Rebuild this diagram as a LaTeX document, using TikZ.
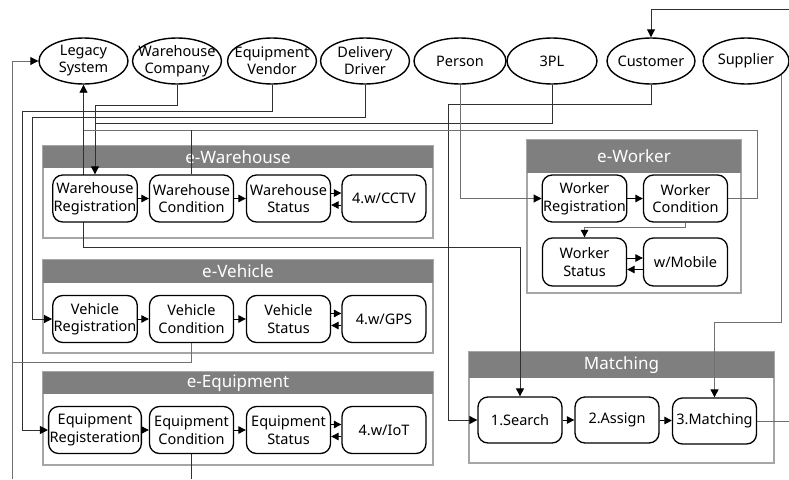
\documentclass[tikz,border=0pt]{standalone}
\usepackage{fontspec}
\setmainfont{Noto Sans}
\usetikzlibrary{arrows.meta,shapes.geometric}
\pgfdeclarelayer{groups}
\pgfdeclarelayer{wires}
\pgfsetlayers{groups,wires,main}
\definecolor{headgray}{HTML}{7F7F7F}
\definecolor{boxgray}{HTML}{A6A6A6}
\definecolor{wiredark}{HTML}{303030}
\definecolor{wiregray}{HTML}{707070}
\begin{document}
\begin{tikzpicture}[x=1pt,y=-1pt,
  actor/.style={ellipse,draw=black,line width=1.4pt,fill=white,
    minimum width=89pt,minimum height=46pt,inner sep=0pt},
  atext/.style={align=center,inner sep=0pt,font=\fontsize{14.5}{17}\selectfont},
  stepbox/.style={rectangle,rounded corners=10pt,draw=black,line width=1.3pt,
    fill=white,minimum width=84pt,minimum height=47pt,inner sep=1pt,
    align=center,font=\fontsize{14.5}{17.5}\selectfont},
  gbox/.style={rectangle,draw=boxgray,line width=1.2pt,inner sep=0pt},
  ghead/.style={rectangle,fill=headgray,text=white,inner sep=0pt,
    font=\fontsize{17}{20}\selectfont},
  wire/.style={draw=wiredark,line width=0.9pt},
  wirelt/.style={draw=wiregray,line width=0.9pt},
  arr/.style={-{Triangle[length=8pt,width=8pt,color=black]}},
  link/.style={draw=black,line width=0.9pt,-{Triangle[length=7.5pt,width=7.5pt,color=black]}}
]
\useasboundingbox (0,0) rectangle (789,479);

% ---------- actors ----------
\node[actor,label={[atext]center:Legacy\\System}]      (leg) at (83.5,61) {};
\node[actor,label={[atext]center:Warehouse\\Company}]  (whc) at (177,61) {};
\node[actor,label={[atext]center:Equipment\\Vendor}]   (eqv) at (272,61) {};
\node[actor,label={[atext]center:Delivery\\Driver}]    (drv) at (365,61) {};
\node[actor,minimum width=92pt,label={[atext]center:Person}] (per) at (460,61) {};
\node[actor,minimum width=90pt,label={[atext]center:3PL}]    (tpl) at (552,61) {};
\node[actor,minimum width=88pt,label={[atext]center:Customer}] (cus) at (651,61) {};
\node[actor,minimum width=86pt,label={[atext]center:Supplier}] (sup) at (746,61) {};

% ---------- group frames ----------
\begin{pgfonlayer}{groups}
  \node[gbox,minimum width=390pt,minimum height=92pt] (gwh) at (238,192) {};
  \node[ghead,minimum width=390pt,minimum height=22pt] (hwh) at (238,157) {e-Warehouse};
  \node[gbox,minimum width=390pt,minimum height=93pt] (gve) at (238,306.5) {};
  \node[ghead,minimum width=390pt,minimum height=23pt] (hve) at (238,271.5) {e-Vehicle};
  \node[gbox,minimum width=390pt,minimum height=93pt] (geq) at (238,418.5) {};
  \node[ghead,minimum width=390pt,minimum height=22pt] (heq) at (238,383) {e-Equipment};
  \node[gbox,minimum width=214pt,minimum height=153pt] (gwk) at (634,216.5) {};
  \node[ghead,minimum width=214pt,minimum height=33pt] (hwk) at (634,156.5) {e-Worker};
  \node[gbox,minimum width=305pt,minimum height=111pt] (gmt) at (621.5,407.5) {};
  \node[ghead,minimum width=305pt,minimum height=26pt] (hmt) at (621.5,365) {Matching};
\end{pgfonlayer}

% ---------- process steps ----------
\node[stepbox] (wreg)  at (95,198.5)    {Warehouse\\Registration};
\node[stepbox] (wcond) at (191.5,198.5) {Warehouse\\Condition};
\node[stepbox] (wstat) at (288.5,198.5) {Warehouse\\Status};
\node[stepbox] (cctv)  at (384,198.5)   {4.w/CCTV};

\node[stepbox] (vreg)  at (95,319)    {Vehicle\\Registration};
\node[stepbox] (vcond) at (191.5,319) {Vehicle\\Condition};
\node[stepbox] (vstat) at (288.5,319) {Vehicle\\Status};
\node[stepbox] (gps)   at (384,319)   {4.w/GPS};

\node[stepbox] (ereg)  at (95,430)    {Equipment\\Registeration};
\node[stepbox] (econd) at (191.5,430) {Equipment\\Condition};
\node[stepbox] (estat) at (288.5,430) {Equipment\\Status};
\node[stepbox] (iot)   at (384,430)   {4.w/IoT};

\node[stepbox] (wkreg)  at (584.5,198.5) {Worker\\Registration};
\node[stepbox] (wkcond) at (685.5,198.5) {Worker\\Condition};
\node[stepbox,minimum height=48pt] (wkstat) at (584.5,262) {Worker\\Status};
\node[stepbox,minimum height=48pt] (mob)    at (685.5,262) {w/Mobile};

\node[stepbox,minimum height=46pt] (srch) at (520,420)   {1.Search};
\node[stepbox,minimum height=46pt] (asgn) at (617,420)   {2.Assign};
\node[stepbox,minimum height=46pt] (mtc)  at (714.5,421) {3.Matching};

% ---------- flows inside the groups ----------
\draw[link] (wreg) -- (wcond);
\draw[link] (wcond) -- (wstat);
\draw[link] ([yshift=5.5pt]wstat.east) -- ([yshift=5.5pt]cctv.west);
\draw[link] ([yshift=-6.5pt]cctv.west) -- ([yshift=-6.5pt]wstat.east);

\draw[link] (vreg) -- (vcond);
\draw[link] (vcond) -- (vstat);
\draw[link] ([yshift=5.5pt]vstat.east) -- ([yshift=5.5pt]gps.west);
\draw[link] ([yshift=-6.5pt]gps.west) -- ([yshift=-6.5pt]vstat.east);

\draw[link] (ereg) -- (econd);
\draw[link] (econd) -- (estat);
\draw[link] ([yshift=5.5pt]estat.east) -- ([yshift=5.5pt]iot.west);
\draw[link] ([yshift=-6.5pt]iot.west) -- ([yshift=-6.5pt]estat.east);

\draw[link] (wkreg) -- (wkcond);
\draw[link,draw=wiregray] (wkcond.south) -- ++(0,5) -| (wkstat.north);
\draw[link] ([yshift=4pt]wkstat.east) -- ([yshift=4pt]mob.west);
\draw[link] ([yshift=-7.5pt]mob.west) -- ([yshift=-7.5pt]wkstat.east);

\draw[link] (srch) -- (asgn);
\draw[link] (asgn) -- (mtc);

% ---------- wiring between actors and groups ----------
\begin{pgfonlayer}{wires}
  \coordinate (lbus) at (12,362);
  \coordinate (tr) at (789,9);
  % Warehouse Company and 3PL feed warehouse registration
  \draw[wire,arr] (whc.south) -- ++(0,21) -| (wreg.north);
  \draw[wire] (tpl.south) |- (wreg.north |- 0,123);
  % Equipment Vendor and Delivery Driver
  \draw[wire,arr] (eqv.south) |- (22,111) |- (ereg.west);
  \draw[wire,arr] (drv.south) |- (32,117) |- (vreg.west);
  % Customer and Person
  \draw[wire,arr] (cus.south) |- (448,104) |- (srch.west);
  \draw[wirelt,arr] (per.south) |- (wkreg.west);
  % Supplier to matching
  \draw[wirelt,arr] (sup.-22) |- (mtc.north |- 0,322) -- (mtc.north);
  % Worker condition loop
  \draw[wirelt] (wkcond.east) -| (757,130) -- (leg.south |- 0,130);
  \draw[wire] (wcond.north |- 0,130) -- (wcond.north);
  \draw[wire,arr] (leg.south |- 0,130) -- (leg.south);
  \draw[wire,arr] (leg.south |- 0,130) |- (srch.north |- 0,247) -- (srch.north);
  % Vehicle condition back to the legacy system
  \draw[wirelt] (vcond.south) |- (lbus);
  \draw[wirelt,arr] (lbus) |- (leg.west);
  \draw[wirelt] (lbus) -- (lbus |- 0,479);
  % Open ends
  \draw[wire] (econd.south) -- (econd.south |- 0,479);
  \draw[wirelt] (mtc.east) -- (mtc.east -| 789,0);
  \draw[wire,arr] (tr) -| (cus.north);
\end{pgfonlayer}
\end{tikzpicture}
\end{document}
